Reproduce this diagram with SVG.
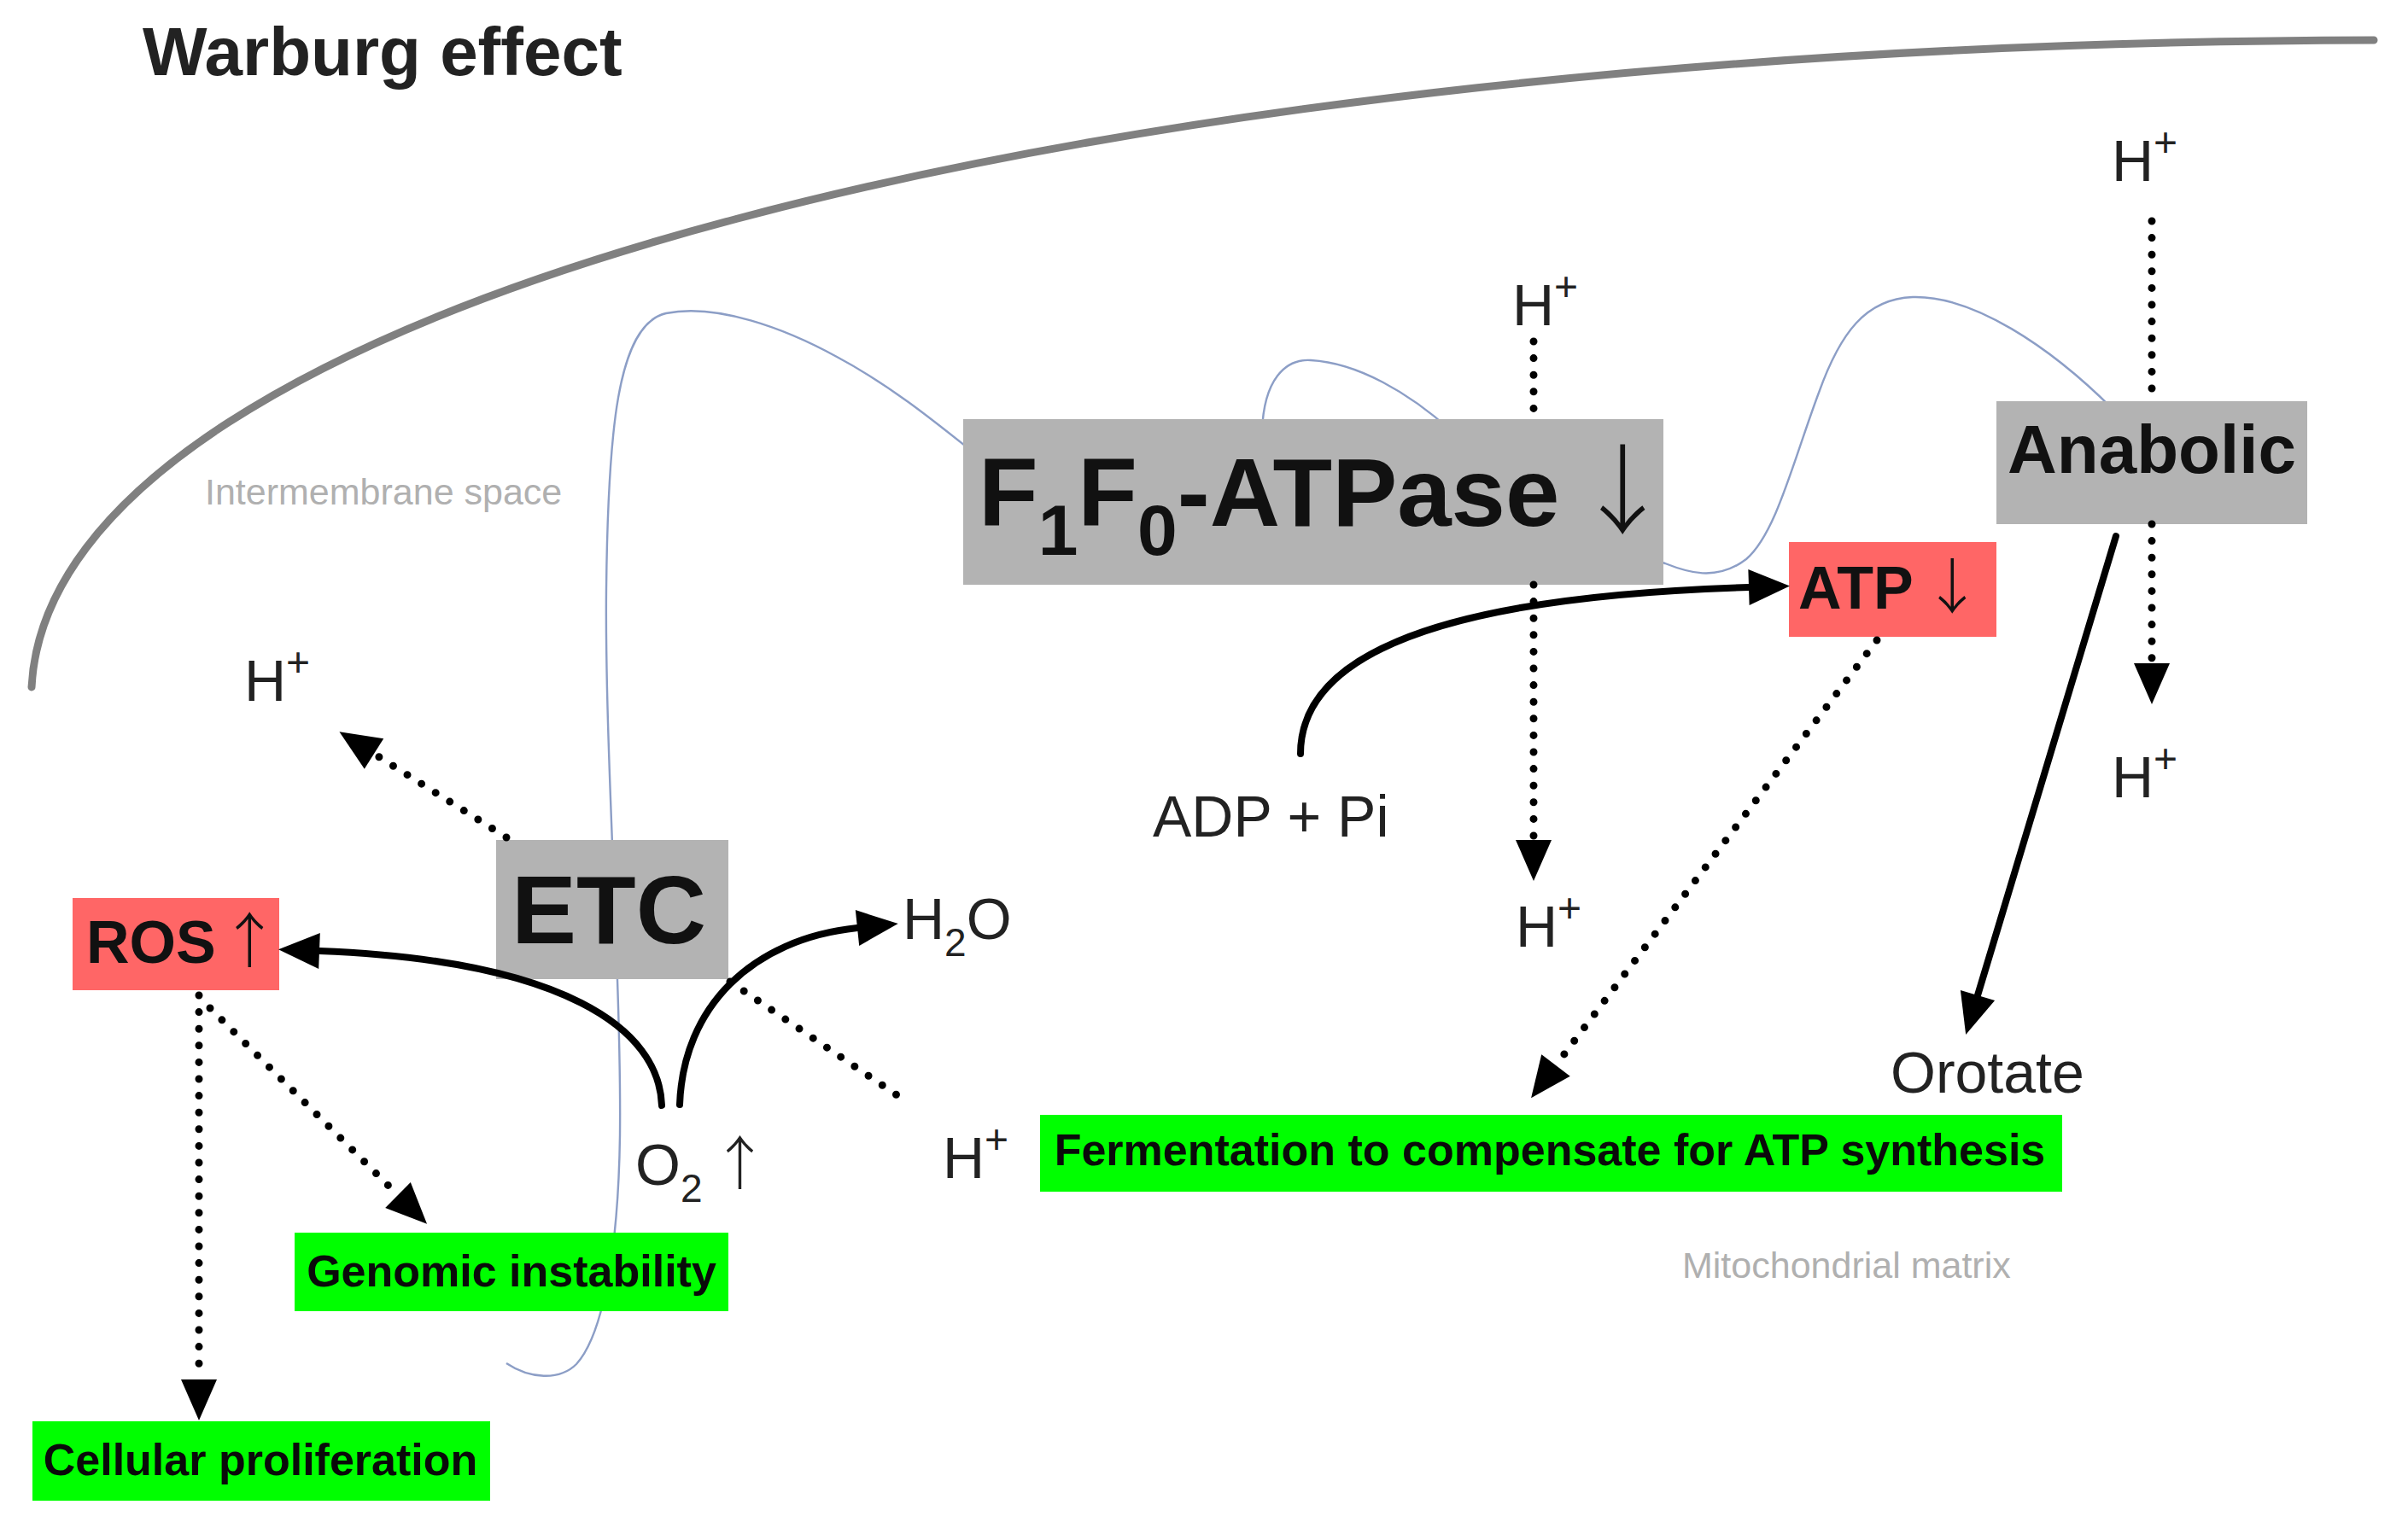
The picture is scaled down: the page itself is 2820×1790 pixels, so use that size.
<svg xmlns="http://www.w3.org/2000/svg" width="2820" height="1790" viewBox="0 0 2820 1790">
<defs>
<style>
text{font-family:"Liberation Sans",Arial,Helvetica,sans-serif;}
.t{font-size:68px;fill:#222;}
.sup{font-size:48px;}
.sub{font-size:46px;}
.b{font-weight:700;fill:#111;}
.ar{font-family:"Noto Sans CJK JP","Noto Sans CJK SC",sans-serif;font-weight:300;}
.gray{fill:#b3b3b3;}
.red{fill:#ff6666;}
.green{fill:#00ff00;}
.gt{font-size:52px;font-weight:700;fill:#0a0a0a;text-anchor:middle;}
.dot{fill:none;stroke:#000;stroke-width:9;stroke-linecap:round;stroke-dasharray:0 19.6;}
.solid{fill:none;stroke:#000;stroke-width:8;stroke-linecap:round;}
.arr{marker-end:url(#ah);}
.note{font-size:43px;fill:#b0b0b0;}
</style>
<marker id="ah" markerUnits="userSpaceOnUse" markerWidth="48" markerHeight="42" viewBox="0 -21 48 42" refX="0" refY="0" orient="auto" overflow="visible">
<path d="M0,-21 L48,0 L0,21 Z" fill="#000"/>
</marker>
</defs>
<rect width="2820" height="1790" fill="#fff"/>

<g id="outer-membrane">
<path d="M37 805 C60 350,1300 50,2780 47" fill="none" stroke="#808080" stroke-width="9" stroke-linecap="round"/>
</g>
<g id="inner-membrane">
<path d="M593 1597 C620 1615,655 1618,675 1598 C705 1565,724 1470,726 1330 C728 1150,708 880,710 690 C712 510,722 380,780 367 C840 355,920 385,980 418 C1040 450,1090 490,1140 530 L1478 505 C1480 445,1505 420,1535 422 C1590 425,1650 460,1700 505 C1800 590,1900 645,1950 660 C1975 670,2010 682,2045 655 C2080 625,2100 540,2130 460 C2155 390,2185 350,2240 348 C2310 346,2400 405,2475 480" fill="none" stroke="#8c9ec6" stroke-width="2.4"/>
</g>

<text id="title" x="167" y="88" font-size="80" font-weight="700" fill="#222">Warburg effect</text>
<text id="intermembrane-label" class="note" x="240" y="591">Intermembrane space</text>
<text id="matrix-label" class="note" x="1970" y="1497">Mitochondrial matrix</text>

<g id="nodes">
<g id="f1f0-atpase">
<rect class="gray" x="1128" y="491" width="820" height="194"/>
<text class="b" x="1146" y="616" font-size="114">F<tspan dy="34" font-size="84">1</tspan><tspan dy="-34">F</tspan><tspan dy="34" font-size="84">0</tspan><tspan dy="-34">-ATPase</tspan><tspan letter-spacing="-15px"> </tspan><tspan class="ar">↓</tspan></text>
</g>
<g id="etc">
<rect class="gray" x="581" y="984" width="272" height="163"/>
<text class="b" x="713" y="1105" font-size="114" text-anchor="middle">ETC</text>
</g>
<g id="anabolic">
<rect class="gray" x="2338" y="470" width="364" height="144"/>
<text class="b" x="2520" y="554" font-size="80" text-anchor="middle">Anabolic</text>
</g>
<g id="ros">
<rect class="red" x="85" y="1052" width="242" height="108"/>
<text class="b" x="101" y="1128" font-size="70">ROS<tspan letter-spacing="-15px"> </tspan><tspan class="ar">↑</tspan></text>
</g>
<g id="atp">
<rect class="red" x="2095" y="635" width="243" height="111"/>
<text class="b" x="2106" y="713" font-size="70">ATP<tspan letter-spacing="-9px"> </tspan><tspan class="ar">↓</tspan></text>
</g>
<g id="genomic-instability">
<rect class="green" x="345" y="1444" width="508" height="92"/>
<text class="gt" x="599" y="1507">Genomic instability</text>
</g>
<g id="cellular-proliferation">
<rect class="green" x="38" y="1665" width="536" height="93"/>
<text class="gt" x="305" y="1728">Cellular proliferation</text>
</g>
<g id="fermentation">
<rect class="green" x="1218" y="1306" width="1197" height="90"/>
<text class="gt" x="1815" y="1365">Fermentation to compensate for ATP synthesis</text>
</g>
<g id="h-top-right"><text class="t" x="2473" y="212">H<tspan class="sup" dy="-29">+</tspan></text></g>
<g id="h-right-matrix"><text class="t" x="2473" y="934">H<tspan class="sup" dy="-29">+</tspan></text></g>
<g id="h-atpase-top"><text class="t" x="1771" y="381">H<tspan class="sup" dy="-29">+</tspan></text></g>
<g id="h-atpase-bottom"><text class="t" x="1775" y="1109">H<tspan class="sup" dy="-29">+</tspan></text></g>
<g id="h-etc-top"><text class="t" x="286" y="821">H<tspan class="sup" dy="-29">+</tspan></text></g>
<g id="h-etc-bottom"><text class="t" x="1104" y="1380">H<tspan class="sup" dy="-29">+</tspan></text></g>
<g id="h2o"><text class="t" x="1057" y="1100">H<tspan class="sub" dy="20">2</tspan><tspan dy="-20">O</tspan></text></g>
<g id="o2"><text class="t" x="744" y="1388">O<tspan class="sub" dy="20">2</tspan><tspan dy="-20" letter-spacing="-9px"> </tspan><tspan class="ar">↑</tspan></text></g>
<g id="adp-pi"><text class="t" x="1350" y="980">ADP + Pi</text></g>
<g id="orotate"><text class="t" x="2214" y="1280">Orotate</text></g>
</g>

<g id="connectors">
<path class="dot arr" d="M2520 259 L2520 469 M2520 614 L2520 777"/>
<path class="dot arr" d="M1796 400 L1796 491 M1796 685 L1796 984"/>
<path class="dot arr" d="M593 981 L438 883"/>
<path class="dot" d="M855 1150 L1052 1284"/>
<path class="dot arr" d="M233 1166 L233 1616"/>
<path class="dot arr" d="M246 1181 L466 1400"/>
<path class="dot arr" d="M2198 750 L1822 1248"/>
<path class="solid arr" d="M1523 883 C1523 780,1650 700,2048 688"/>
<path class="solid arr" d="M775 1295 C772 1205,660 1125,374 1114"/>
<path class="solid arr" d="M796 1294 C800 1180,880 1100,1004 1087"/>
<path class="solid arr" d="M2478 628 L2316 1166"/>
</g>
</svg>
